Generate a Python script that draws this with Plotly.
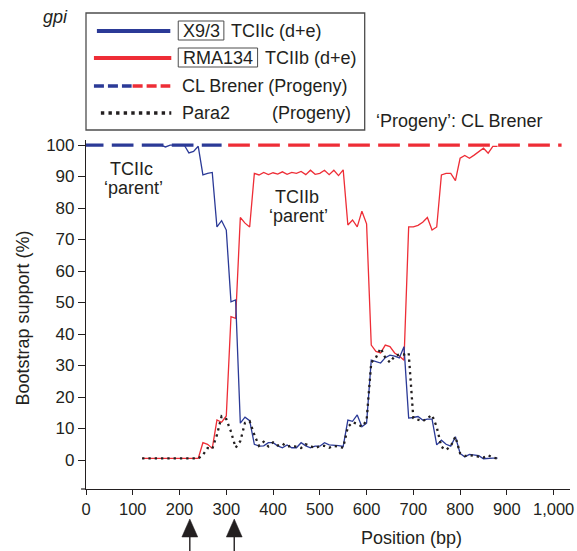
import plotly.graph_objects as go

# ---------------- data ----------------
positions = [120, 130, 140, 150, 160, 170, 180, 190, 200, 210, 220, 230, 240, 250, 260, 270, 280, 290,
             300, 310, 320, 330, 340, 350, 360, 370, 380, 390, 400, 410, 420, 430, 440, 450, 460, 470,
             480, 490, 500, 510, 520, 530, 540, 550, 560, 570, 580, 590, 600, 610, 620, 630, 640, 650,
             660, 670, 680, 690, 700, 710, 720, 730, 740, 750, 760, 770, 780, 790, 800, 810, 820, 830,
             840, 850, 860, 870, 880]

x93_support = [100, 100, 100, 100, 100, 99.4, 100, 100, 100, 100, 97.5, 98, 99.6, 90.5, 91, 91.3, 74, 76,
               73, 50.2, 50.8, 11.7, 13.6, 12.5, 5, 4.4, 4.5, 5.5, 5.5, 4.5, 3.9, 4.8, 3.9, 3.9, 5.5, 4.5,
               3.9, 4.4, 4.4, 5.5, 4.8, 4.8, 4.6, 4.3, 12.7, 12.3, 14.3, 10.6, 11.7, 31.7, 31.3, 30.8, 32.5, 33.3,
               33, 32.4, 36, 13.3, 13.5, 13.8, 12.7, 13, 13, 4.8, 6.3, 5, 4.4, 7.4, 2.1, 1, 1.8, 1.5,
               1.4, 0.4, 0.6, 0.6, 0.6]

rma134_support = [0.5, 0.5, 0.5, 0.5, 0.5, 0.5, 0.5, 0.5, 0.5, 0.5, 0.5, 0.5, 0.5, 5.5, 5, 3.7, 12.7, 12,
                  14, 45.5, 45, 77, 75.2, 74, 91, 90.5, 91.3, 90.6, 91.2, 90.8, 91.5, 90.7, 91.3, 91, 91.6, 90.6,
                  92, 90.7, 91, 92, 90.6, 92, 90.3, 92.1, 74.6, 76.2, 74, 79, 75, 36.5, 34.5, 34, 36.5, 36,
                  34, 33, 31.7, 74, 74, 74.5, 75.5, 77, 73, 74, 90.5, 91, 91, 88.7, 95.8, 96.7, 95.8, 96.8,
                  98, 99, 97.4, 99.6, 99.6]

para2_support = [0.5, 0.5, 0.5, 0.5, 0.5, 0.5, 0.5, 0.5, 0.5, 0.5, 0.5, 0.5, 0.5, 1.6, 3.8, 3.5, 8, 13.9,
                 13, 9, 3.9, 6, 11.8, 12.3, 8, 4.5, 5.8, 4.3, 5.6, 4.6, 5.2, 4.2, 4.6, 4.2, 3.8, 5,
                 4.3, 3.8, 4.4, 4.5, 3.9, 4.5, 4.2, 3.9, 10.5, 12, 11.5, 10.6, 12.5, 31, 32.5, 35.5, 32.5, 31,
                 33, 33.5, 33.5, 34, 13.3, 12.7, 12.3, 13.3, 14.3, 10.5, 4.2, 3.2, 4.4, 7.4, 2.1, 1.3, 1.4, 1.5,
                 1, 0.8, 1.5, 0.8, 0.5]

# CL Brener (progeny): 100% support, TCIIc-like (blue) at the left, TCIIb-like (red) after
cl_brener_blue_span = [-9, 290]
cl_brener_red_span = [304, 1017]
cl_brener_support = 100

arrow_positions = [222, 317]

x_tickvals = [0, 100, 200, 300, 400, 500, 600, 700, 800, 900, 1000]
x_ticktext = ["0", "100", "200", "300", "400", "500", "600", "700", "800", "900", "1,000"]
y_tickvals = [0, 10, 20, 30, 40, 50, 60, 70, 80, 90, 100]

# ---------------- style ----------------
W, H = 577, 551
L, R, T, B = 86, 3, 140, 62
PW, PH = W - L - R, H - T - B
XMAX = 1035
BLUE = "#2B3A97"
RED = "#EE2D36"
INK = "#231F20"
FONT = "Liberation Sans, Arial, Helvetica, sans-serif"


def px(x):
    return (x - L) / PW


def py(y):
    return (H - B - y) / PH


fig = go.Figure()

fig.add_trace(go.Scatter(x=positions, y=rma134_support, mode="lines",
                         line=dict(color=RED, width=1.3), hoverinfo="skip"))
fig.add_trace(go.Scatter(x=positions, y=x93_support, mode="lines",
                         line=dict(color=BLUE, width=1.3), hoverinfo="skip"))
fig.add_trace(go.Scatter(x=positions, y=para2_support, mode="lines",
                         line=dict(color=INK, width=2.3, dash="2.3px,4px"), hoverinfo="skip"))
fig.add_trace(go.Scatter(x=cl_brener_blue_span, y=[cl_brener_support] * 2, mode="lines",
                         line=dict(color=BLUE, width=3.3, dash="21.7px,8.3px"), hoverinfo="skip"))
fig.add_trace(go.Scatter(x=cl_brener_red_span, y=[cl_brener_support] * 2, mode="lines",
                         line=dict(color=RED, width=3.3, dash="21.7px,8.3px"), hoverinfo="skip"))

shapes = []
# small overhang of the x axis to the left of the y axis
shapes.append(dict(type="line", xref="paper", yref="paper", x0=px(81), x1=px(86), y0=0, y1=0,
                   line=dict(color=INK, width=1.2)))

# arrows under the axis
half_w = 8 * XMAX / PW
for a in arrow_positions:
    shapes.append(dict(type="path", xref="x", yref="paper",
                       path=f"M {a - half_w},{py(537)} L {a + half_w},{py(537)} L {a},{py(519)} Z",
                       fillcolor=INK, line=dict(color=INK, width=0.5)))
    shapes.append(dict(type="line", xref="x", yref="paper", x0=a, x1=a, y0=py(536), y1=py(556),
                       line=dict(color=INK, width=1.4)))

# legend box
shapes.append(dict(type="rect", xref="paper", yref="paper", x0=px(86), x1=px(367), y0=py(13), y1=py(130),
                   line=dict(color="#4D4D4D", width=1.3), fillcolor="white"))
rows = [31, 58, 86, 113]
shapes.append(dict(type="line", xref="paper", yref="paper", x0=px(97), x1=px(171), y0=py(rows[0]), y1=py(rows[0]),
                   line=dict(color=BLUE, width=4)))
shapes.append(dict(type="line", xref="paper", yref="paper", x0=px(94), x1=px(172), y0=py(rows[1]), y1=py(rows[1]),
                   line=dict(color=RED, width=4)))
shapes.append(dict(type="line", xref="paper", yref="paper", x0=px(94), x1=px(132), y0=py(rows[2]), y1=py(rows[2]),
                   line=dict(color=BLUE, width=3.5, dash="10px,4px")))
shapes.append(dict(type="line", xref="paper", yref="paper", x0=px(133), x1=px(171), y0=py(rows[2]), y1=py(rows[2]),
                   line=dict(color=RED, width=3.5, dash="10px,4px")))
shapes.append(dict(type="line", xref="paper", yref="paper", x0=px(101), x1=px(172), y0=py(rows[3]), y1=py(rows[3]),
                   line=dict(color=INK, width=3.4, dash="3.4px,4.2px")))
shapes.append(dict(type="rect", xref="paper", yref="paper", x0=px(179), x1=px(225), y0=py(21), y1=py(40),
                   line=dict(color="#4D4D4D", width=1)))
shapes.append(dict(type="rect", xref="paper", yref="paper", x0=px(179), x1=px(259), y0=py(48), y1=py(67),
                   line=dict(color="#4D4D4D", width=1)))

ann = []


def text(t, x, y, xanchor="center", size=18, angle=0):
    ann.append(dict(text=t, x=px(x), y=py(y), xref="paper", yref="paper", xanchor=xanchor,
                    yanchor="middle", showarrow=False, textangle=angle,
                    font=dict(family=FONT, size=size, color=INK)))


text("<i>gpi</i>", 55, 17)
text("X9/3", 202, 31)
text("TCIIc (d+e)", 230, 31, "left")
text("RMA134", 219, 58)
text("TCIIb (d+e)", 264, 58, "left")
text("CL Brener (Progeny)", 181, 86, "left")
text("Para2", 181, 113, "left")
text("(Progeny)", 272, 113, "left")
text("\u2018Progeny\u2019: CL Brener", 376, 121, "left")
text("TCIIc", 132, 169)
text("\u2018parent\u2019", 134, 188)
text("TCIIb", 299, 197)
text("\u2018parent\u2019", 300, 216)
text("Position (bp)", 414, 538)
text("Bootstrap support (%)", 22, 318, angle=-90)

fig.update_layout(
    width=W, height=H,
    margin=dict(l=L, r=R, t=T, b=B, pad=0),
    paper_bgcolor="white", plot_bgcolor="white",
    showlegend=False,
    shapes=shapes, annotations=ann,
    font=dict(family=FONT, color=INK),
    xaxis=dict(range=[0, XMAX], showline=True, linecolor=INK, linewidth=1.2,
               ticks="outside", ticklen=5, tickwidth=1.2, tickcolor=INK,
               tickvals=x_tickvals, ticktext=x_ticktext, tickfont=dict(size=16.5, family=FONT, color=INK),
               ticklabeloverflow="allow",
               showgrid=False, zeroline=False),
    yaxis=dict(range=[-9.2, 101.6], showline=True, linecolor=INK, linewidth=1.2,
               ticks="outside", ticklen=7, tickwidth=1.2, tickcolor=INK,
               tickvals=y_tickvals, tickfont=dict(size=17, family=FONT, color=INK),
               showgrid=False, zeroline=False),
)

fig.write_html("out.html", config={"displayModeBar": False},
               post_script="document.body.style.margin='0';document.body.style.padding='0';")
